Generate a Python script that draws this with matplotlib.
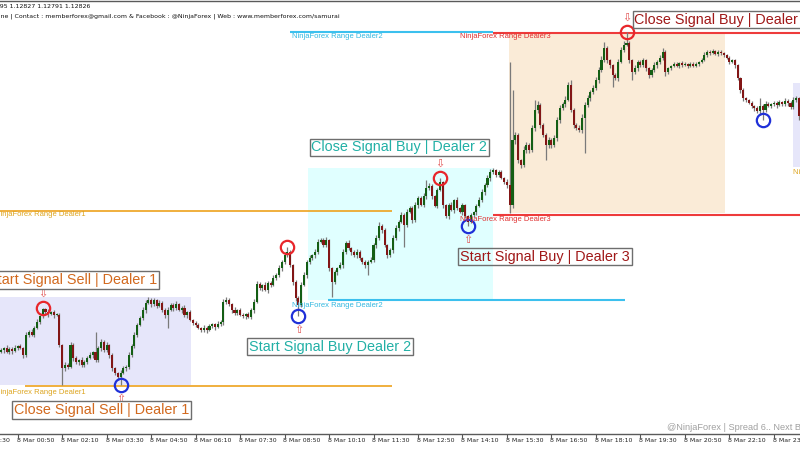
import numpy as np
import matplotlib
matplotlib.use("Agg")
import matplotlib.pyplot as plt
from matplotlib.patches import Rectangle
from matplotlib.transforms import blended_transform_factory

# ---------------------------------------------------------------- data
BASE = 1.12000          # prices are stored in points above this level
POINT = 0.00001
BAR_MINUTES = 5
FIRST_BAR_MINUTE = 20   # first bar opens 8 Mar 00:20

FIRST_OPEN_PTS = 296

CLOSE_PTS = [
    300, 304, 296, 302, 298, 304, 308, 304, 290, 330,
    336, 330, 344, 356, 368, 382, 376, 372, 376, 370,
    370, 310, 264, 270, 266, 310, 284, 276, 280, 270,
    276, 284, 290, 296, 280, 304, 316, 300, 310, 290,
    264, 254, 246, 254, 264, 266, 290, 308, 330, 350,
    364, 380, 394, 400, 392, 400, 388, 394, 380, 370,
    380, 390, 384, 392, 380, 384, 370, 376, 360, 354,
    350, 344, 340, 344, 340, 348, 352, 346, 352, 356,
    396, 400, 392, 380, 374, 380, 370, 368, 372, 366,
    380, 396, 432, 424, 430, 420, 434, 430, 444, 450,
    464, 476, 490, 496, 470, 436, 404, 390, 430, 450,
    476, 484, 490, 496, 516, 520, 510, 520, 464, 436,
    456, 464, 470, 496, 514, 504, 496, 490, 496, 484,
    476, 470, 476, 480, 510, 524, 548, 540, 510, 490,
    500, 524, 544, 556, 570, 550, 576, 584, 560, 590,
    604, 590, 608, 624, 628, 608, 588, 620, 636, 590,
    568, 590, 580, 600, 584, 576, 590, 568, 556, 570,
    576, 588, 600, 616, 630, 644, 656, 660, 650, 656,
    644, 636, 630, 590, 720, 730, 680, 670, 700, 710,
    700, 744, 780, 790, 750, 730, 710, 720, 710, 724,
    760, 784, 792, 800, 830, 780, 750, 744, 740, 764,
    790, 804, 816, 824, 840, 860, 880, 904, 880, 870,
    850, 844, 876, 900, 910, 914, 880, 856, 864, 876,
    870, 880, 864, 850, 860, 870, 876, 884, 896, 856,
    864, 868, 872, 868, 874, 870, 872, 868, 872, 868,
    872, 876, 880, 890, 896, 894, 898, 892, 896, 894,
    890, 884, 876, 880, 870, 844, 820, 804, 800, 794,
    788, 784, 778, 788, 780, 792, 788, 792, 794, 790,
    796, 792, 798, 794, 786, 800, 804, 768,
]

UPPER_WICK_PTS = [
    4, 2, 6, 3, 4, 5, 2, 4, 3, 6,
    3, 5, 4, 6, 3, 2, 2, 5, 3, 4,
    4, 3, 2, 5, 4, 6, 3, 4, 2, 5,
    3, 4, 6, 2, 40, 4, 6, 3, 5, 2,
    4, 3, 2, 5, 4, 3, 6, 4, 5, 3,
    4, 6, 5, 6, 3, 4, 2, 5, 4, 3,
    5, 4, 3, 6, 2, 4, 5, 3, 4, 2,
    3, 4, 2, 5, 3, 4, 2, 3, 5, 4,
    6, 5, 4, 3, 5, 2, 4, 3, 2, 4,
    3, 5, 6, 4, 3, 5, 4, 3, 6, 4,
    5, 4, 6, 10, 3, 2, 4, 3, 6, 5,
    4, 6, 3, 5, 6, 4, 3, 5, 2, 3,
    4, 3, 5, 6, 4, 5, 3, 4, 6, 3,
    2, 4, 3, 5, 4, 6, 8, 4, 3, 2,
    4, 5, 6, 4, 5, 3, 6, 4, 3, 5,
    4, 3, 6, 16, 5, 3, 2, 4, 8, 3,
    2, 4, 5, 3, 6, 2, 4, 3, 2, 4,
    3, 4, 5, 6, 4, 5, 6, 4, 3, 5,
    4, 3, 5, 246, 100, 6, 4, 3, 8, 5,
    4, 6, 20, 8, 4, 3, 4, 5, 3, 6,
    6, 5, 4, 8, 6, 10, 4, 3, 6, 8,
    6, 5, 4, 6, 5, 6, 8, 12, 4, 3,
    3, 4, 5, 6, 8, 22, 4, 3, 5, 4,
    4, 5, 3, 2, 4, 5, 3, 6, 8, 4,
    3, 2, 4, 3, 2, 4, 3, 2, 3, 4,
    3, 2, 4, 6, 4, 3, 4, 2, 3, 4,
    2, 3, 4, 3, 2, 3, 2, 4, 3, 2,
    3, 2, 4, 16, 3, 5, 4, 3, 4, 3,
    4, 3, 5, 4, 3, 5, 4, 3,
]

LOWER_WICK_PTS = [
    3, 5, 2, 4, 6, 3, 4, 2, 5, 3,
    4, 3, 5, 2, 4, 3, 4, 6, 3, 5,
    3, 4, 34, 6, 4, 3, 5, 4, 6, 3,
    4, 5, 3, 6, 4, 3, 5, 4, 3, 6,
    5, 4, 6, 16, 3, 5, 4, 3, 4, 5,
    3, 4, 5, 3, 6, 4, 5, 3, 4, 6,
    26, 3, 5, 4, 3, 6, 4, 5, 3, 4,
    4, 3, 5, 4, 6, 3, 4, 5, 3, 4,
    5, 4, 3, 6, 4, 5, 3, 4, 6, 3,
    4, 5, 3, 4, 6, 3, 5, 4, 3, 4,
    3, 5, 4, 3, 4, 6, 5, 22, 4, 3,
    5, 4, 3, 6, 4, 3, 5, 4, 6, 30,
    4, 6, 3, 5, 4, 3, 6, 4, 5, 3,
    4, 5, 20, 3, 4, 6, 3, 5, 4, 6,
    3, 5, 4, 6, 3, 44, 4, 3, 6, 4,
    5, 3, 4, 6, 4, 5, 3, 4, 3, 5,
    4, 6, 3, 5, 4, 3, 6, 4, 8, 3,
    4, 5, 3, 4, 6, 3, 5, 4, 3, 4,
    3, 4, 5, 16, 6, 8, 5, 6, 4, 5,
    6, 4, 5, 6, 5, 4, 30, 6, 5, 4,
    5, 6, 4, 5, 3, 4, 6, 4, 4, 6,
    70, 4, 5, 3, 4, 6, 3, 4, 5, 6,
    24, 4, 5, 3, 4, 3, 6, 16, 4, 5,
    4, 3, 5, 6, 4, 3, 5, 4, 3, 8,
    3, 4, 2, 3, 4, 3, 2, 4, 3, 2,
    3, 4, 3, 2, 3, 4, 2, 3, 4, 3,
    3, 2, 4, 3, 5, 4, 6, 5, 4, 3,
    4, 5, 3, 8, 20, 4, 3, 4, 3, 5,
    3, 4, 3, 5, 4, 3, 4, 8,
]

TICK_LABELS = [
    "7 Mar 23:30", "8 Mar 00:50", "8 Mar 02:10", "8 Mar 03:30", "8 Mar 04:50",
    "8 Mar 06:10", "8 Mar 07:30", "8 Mar 08:50", "8 Mar 10:10", "8 Mar 11:30",
    "8 Mar 12:50", "8 Mar 14:10", "8 Mar 15:30", "8 Mar 16:50", "8 Mar 18:10",
    "8 Mar 19:30", "8 Mar 20:50", "8 Mar 22:10", "8 Mar 23:30",
]

# range levels of each dealer (points): upper, lower
DEALER1_LEVELS = [578, 228]
DEALER2_LEVELS = [936, 400]
DEALER3_LEVELS = [935, 570]

# signal bars
SELL_OPEN_BARS = [15, 103, 158, 225]      # red rings at the bar high
SELL_CLOSE_BARS = [43, 107, 168, 274]     # blue rings at the bar low
ARROW_DOWN_BARS = [15, 158, 225]
ARROW_UP_BARS = [43, 107, 168]

SIGNAL_TEXTS = [
    "Start Signal Sell | Dealer 1", "Close Signal Sell | Dealer 1",
    "Start Signal Buy Dealer 2", "Close Signal Buy | Dealer 2",
    "Start Signal Buy | Dealer 3", "Close Signal Buy | Dealer 3",
]

HEADER_QUOTE = "1.12795 1.12827 1.12791 1.12826"
HEADER_INFO = ("Online | Contact : memberforex@gmail.com & Facebook : @NinjaForex | "
               "Web : www.memberforex.com/samurai")
FOOTER = "@NinjaForex | Spread 6.. Next Bar"

# ---------------------------------------------------------------- series
def px(p):
    return BASE + np.asarray(p, dtype=float) * POINT

close = px(CLOSE_PTS)
opn = np.r_[px(FIRST_OPEN_PTS), close[:-1]]          # each bar opens at the prior close
high = np.maximum(opn, close) + np.array(UPPER_WICK_PTS) * POINT
low = np.minimum(opn, close) - np.array(LOWER_WICK_PTS) * POINT
idx = np.arange(len(close))
rising = close >= opn


def tick_bar(label):
    day, _, hm = label.split(" ")
    h, m = map(int, hm.split(":"))
    minutes = (int(day) - 8) * 1440 + h * 60 + m
    return (minutes - FIRST_BAR_MINUTE) / BAR_MINUTES


# ---------------------------------------------------------------- figure
fig = plt.figure(figsize=(8, 4.5), dpi=100, facecolor="white")
ax = fig.add_axes([0, 16 / 450, 1, 433 / 450])
BAR_PX = 2.78
ax.set_xlim(-1 / BAR_PX, 799 / BAR_PX)
ax.set_ylim(px(132), px(998))
ax.set_facecolor("white")
for side in ("left", "right"):
    ax.spines[side].set_visible(False)
for side in ("top", "bottom"):
    ax.spines[side].set_color("#5a5a5a")
    ax.spines[side].set_linewidth(1.0)
ax.set_yticks([])

# dealer zones
def zone(x0, x1, lo, hi, color):
    ax.add_patch(Rectangle((x0, px(lo)), x1 - x0, px(hi) - px(lo),
                           facecolor=color, edgecolor="none", zorder=0))

zone(-2, 68.3, 230, 406, "#E6E6FA")
zone(110.4, 177.0, 400, 664, "#E0FFFF")
zone(182.7, 260.4, 574, 936, "#FAEBD7")
zone(284.9, 300, 666, 834, "#E6E6FA")

# range lines
ORANGE, CYAN, RED = "#EEA21C", "#3CC0EE", "#EE3B3B"
ax.hlines(px(DEALER1_LEVELS[0]), -2, 140.6, color=ORANGE, lw=1.2, zorder=1)
ax.hlines(px(DEALER1_LEVELS[1]), 8.6, 140.6, color=ORANGE, lw=1.2, zorder=1)
ax.hlines(px(DEALER2_LEVELS[0]), 104.0, 177.0, color=CYAN, lw=1.5, zorder=1)
ax.hlines(px(DEALER2_LEVELS[1]), 117.6, 224.5, color=CYAN, lw=1.5, zorder=1)
ax.hlines(px(DEALER3_LEVELS), 177.0, 300, color=RED, lw=1.5, zorder=1)

lab_kw = dict(fontsize=5.5, family="Liberation Sans", va="center", ha="left",
              zorder=6, clip_on=False)
ax.text(-2.3, px(570), "NinjaForex Range Dealer1", color="#DDA520", **lab_kw)
ax.text(-2.3, px(216), "NinjaForex Range Dealer1", color="#DDA520", **lab_kw)
ax.text(104.7, px(926), "NinjaForex Range Dealer2", color="#33B8E0", **lab_kw)
ax.text(104.7, px(388), "NinjaForex Range Dealer2", color="#33B8E0", **lab_kw)
ax.text(165.1, px(926), "NinjaForex Range Dealer3", color="#E03030", **lab_kw)
ax.text(165.1, px(560), "NinjaForex Range Dealer3", color="#E03030", **lab_kw)
ax.text(284.9, px(656), "NinjaForex Range Dealer1", color="#DDA520", **lab_kw)

# candles
ax.vlines(idx, low, high, color="#7a7a7a", lw=0.9, zorder=2)
body = np.maximum(np.abs(close - opn), 1.5 * POINT)
ax.bar(idx, body, bottom=np.minimum(opn, close), width=0.74,
       color=np.where(rising, "#145E14", "#821616"), linewidth=0, zorder=3)

# signal rings and arrows
ax.plot(SELL_OPEN_BARS, high[SELL_OPEN_BARS], "o", mfc="none", mec="#E8262B",
        ms=9.6, mew=1.6, zorder=5)
ax.plot(SELL_CLOSE_BARS, low[SELL_CLOSE_BARS], "o", mfc="none", mec="#1F30D8",
        ms=9.6, mew=1.6, zorder=5)
for b in ARROW_DOWN_BARS:
    ax.annotate("\u21e9", xy=(b, high[b]), xytext=(0, 10.5), textcoords="offset points",
                ha="center", va="center", fontsize=8, color="#E05050",
                family="DejaVu Sans", zorder=6)
for b in ARROW_UP_BARS:
    ax.annotate("\u21e7", xy=(b, low[b]), xytext=(0, -10), textcoords="offset points",
                ha="center", va="center", fontsize=8, color="#E05050",
                family="DejaVu Sans", zorder=6)

# signal captions
D1, D2, D3 = "#D2691E", "#22B0A6", "#A01818"
box = dict(boxstyle="square,pad=0.12", fc="none", ec="#6E6E6E", lw=1.0)
cap_kw = dict(fontsize=10.4, family="Liberation Sans", ha="center", va="center",
              bbox=box, zorder=7, clip_on=False)
ax.text(25.7, px(440), SIGNAL_TEXTS[0], color=D1, **cap_kw)
ax.text(36.3, px(180), SIGNAL_TEXTS[1], color=D1, **cap_kw)
ax.text(118.3, px(307), SIGNAL_TEXTS[2], color=D2, **cap_kw)
ax.text(143.3, px(705), SIGNAL_TEXTS[3], color=D2, **cap_kw)
ax.text(195.7, px(487), SIGNAL_TEXTS[4], color=D3, **cap_kw)
ax.text(259.5, px(961), SIGNAL_TEXTS[5], color=D3, **cap_kw)

# time axis
tick_bars = [tick_bar(t) for t in TICK_LABELS]
ax.set_xticks([b for b in tick_bars if b >= ax.get_xlim()[0]])
ax.tick_params(axis="x", direction="out", length=3, width=0.8, color="#555555",
               labelbottom=False)
trans = blended_transform_factory(ax.transData, fig.transFigure)
for b, lab in zip(tick_bars, TICK_LABELS):
    ax.text(b - 0.4, 9 / 450, lab, transform=trans, ha="left", va="center",
            fontsize=4.5, family="DejaVu Sans", color="#222222", clip_on=False)

# header and footer
fig.text(-18 / 800, 1 - 6 / 450, HEADER_QUOTE, fontsize=4.5, family="DejaVu Sans",
         va="center", ha="left", color="#111111")
fig.text(-12 / 800, 1 - 16 / 450, HEADER_INFO, fontsize=4.5, family="DejaVu Sans",
         va="center", ha="left", color="#111111")
fig.text(667 / 800, 1 - 427 / 450, FOOTER, fontsize=6.6, family="Liberation Sans",
         va="center", ha="left", color="#A0A0A0")

fig.savefig("out.png", dpi=100, facecolor="white")
